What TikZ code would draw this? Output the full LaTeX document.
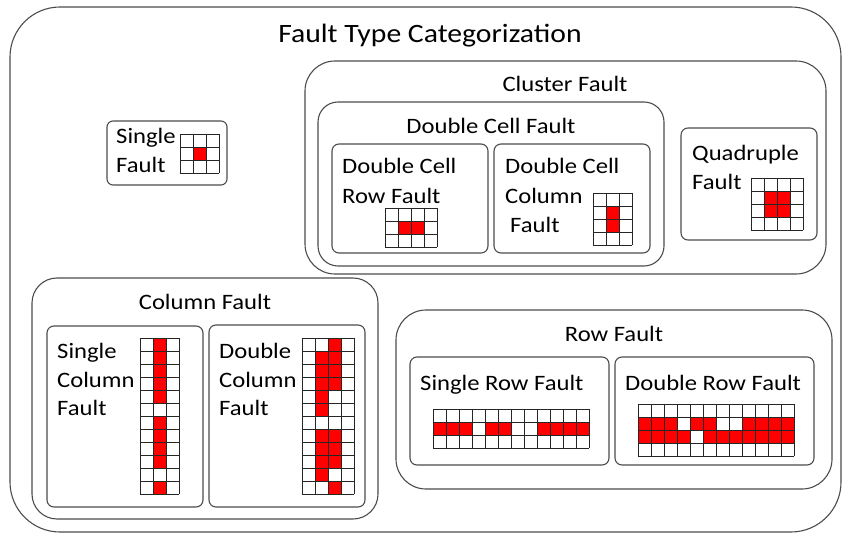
\documentclass[tikz,border=0pt]{standalone}
\usepackage{fontspec}
\setmainfont{Carlito}[FakeStretch=1.12]
\newcommand{\fgrid}[5]{%
 \foreach \c/\r in {#5}{\fill[red] ({#1+(\c-1)*13},{#2+(\r-1)*13}) rectangle ++(13,13);}
 \foreach \i in {0,...,#3}{\draw[cellg] ({#1+\i*13},#2) -- ++(0,{#4*13});}
 \foreach \j in {0,...,#4}{\draw[cellg] (#1,{#2+\j*13}) -- ++({#3*13},0);}
}
\tikzset{
 box/.style={draw=black!70, line width=1.1pt, rounded corners=#1},
 lbl/.style={inner sep=0, anchor=base west, font=\fontsize{22}{26}\selectfont},
 clbl/.style={inner sep=0, anchor=base, font=\fontsize{22}{26}\selectfont},
 cellg/.style={draw=black!85, line width=0.8pt},
}
\begin{document}
\begin{tikzpicture}[x=1pt,y=-1pt]
\useasboundingbox (0,0) rectangle (842,534);
% containers
\draw[box=50] (10,7) rectangle (841,532);
\draw[box=30] (305,61) rectangle (826,274);
\draw[box=20] (318,102) rectangle (664,266);
\draw[box=7] (332,144) rectangle (488,253);
\draw[box=7] (494,144) rectangle (650,253);
\draw[box=7] (681,128) rectangle (817,240);
\draw[box=6] (107,121) rectangle (227,185);
\draw[box=25] (32,278) rectangle (378,519);
\draw[box=7] (47,326) rectangle (203,507);
\draw[box=7] (209,325) rectangle (365,507);
\draw[box=30] (396,310) rectangle (832,489);
\draw[box=7] (410,357) rectangle (609,465);
\draw[box=7] (615,357) rectangle (814,465);
% labels
\node[clbl, font=\fontsize{26.5}{30}\selectfont] (title) at (430,43) {Fault Type Categorization};
\node[clbl] (clt) at (565,92) {Cluster Fault};
\node[clbl] (dcft) at (491,134) {Double Cell Fault};
\node[lbl] (dcr1) at (342,174) {Double Cell};
\node[lbl] (dcr2) at (342,204) {Row Fault};
\node[lbl] (dcc1) at (505,174) {Double Cell};
\node[lbl] (dcc2) at (505,204) {Column};
\node[lbl] (dcc3) at (510,233) {Fault};
\node[lbl] (q1) at (692,161) {Quadruple};
\node[lbl] (q2) at (692,190) {Fault};
\node[lbl] (sf1) at (116,144) {Single};
\node[lbl] (sf2) at (116,173) {Fault};
\node[clbl] (colt) at (205,309) {Column Fault};
\node[lbl] (sc1) at (57,358) {Single};
\node[lbl] (sc2) at (57,387) {Column};
\node[lbl] (sc3) at (57,415) {Fault};
\node[lbl] (dc1) at (219,358) {Double};
\node[lbl] (dc2) at (219,387) {Column};
\node[lbl] (dc3) at (219,415) {Fault};
\node[clbl] (rowt) at (614,341) {Row Fault};
\node[lbl] (sr) at (420,390) {Single Row Fault};
\node[lbl] (dr) at (625,390) {Double Row Fault};
% grids
\fgrid{180}{134}{3}{3}{2/2}
\fgrid{385}{208}{4}{3}{2/2,3/2}
\fgrid{593}{193}{3}{4}{2/2,2/3}
\fgrid{751}{178}{4}{4}{2/2,3/2,2/3,3/3}
\fgrid{140}{338}{3}{12}{2/1,2/2,2/3,2/4,2/5,2/7,2/8,2/9,2/10,2/12}
\fgrid{302}{338}{4}{12}{3/1,2/2,3/2,2/3,3/3,2/4,3/4,2/5,2/6,2/8,3/8,2/9,3/9,2/10,3/10,2/11,3/12}
\fgrid{433}{409}{12}{3}{1/2,2/2,3/2,5/2,6/2,9/2,10/2,11/2,12/2}
\fgrid{638}{404}{12}{4}{1/2,2/2,3/2,5/2,6/2,9/2,10/2,11/2,12/2,1/3,2/3,3/3,4/3,6/3,7/3,8/3,9/3,10/3,11/3,12/3}
\end{tikzpicture}
\end{document}
